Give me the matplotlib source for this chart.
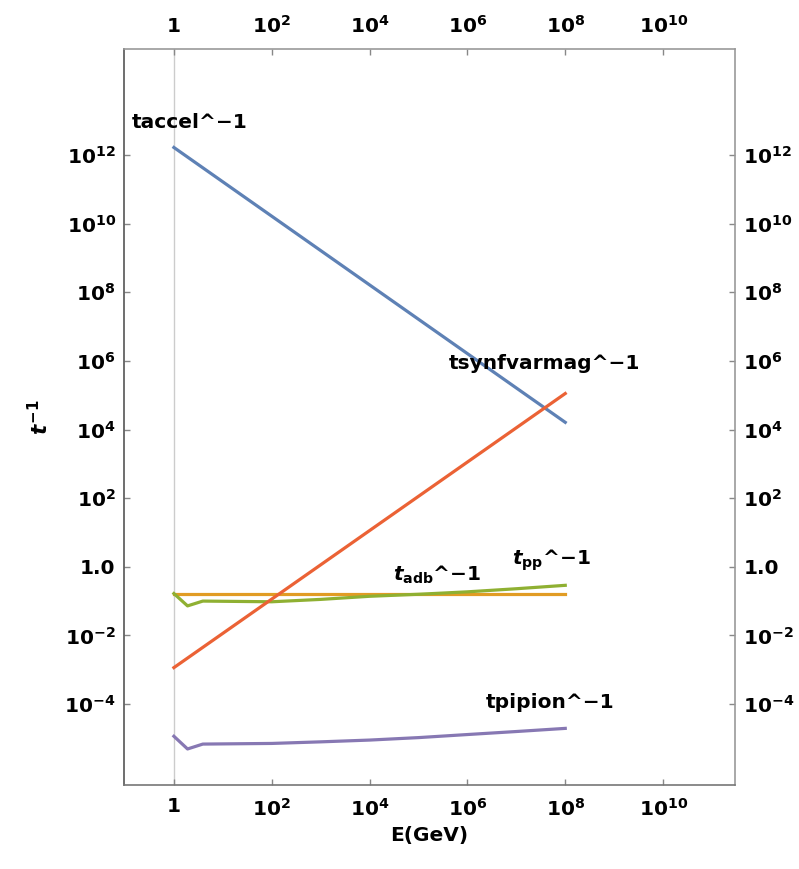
import matplotlib
matplotlib.use("Agg")
import matplotlib.pyplot as plt
from matplotlib.ticker import FixedLocator, FixedFormatter

plt.rcParams['font.family'] = ['DejaVu Sans']
plt.rcParams['mathtext.fontset'] = 'custom'
plt.rcParams['mathtext.rm'] = 'DejaVu Sans:bold'
plt.rcParams['mathtext.bf'] = 'DejaVu Sans:bold'
plt.rcParams['mathtext.it'] = 'DejaVu Sans:bold:oblique'

# ---- data ----
E_line = [1.0, 1e8]
taccel = [1.66e12, 1.62e4]
tsynf = [1.15e-3, 1.12e5]
tadb = [0.163, 0.163]

E_curve = [1.0, 1.9, 3.9, 100.0, 1e3, 1e4, 1e5, 1e6, 1e7, 1e8]
tpp = [0.166, 0.0724, 0.100, 0.0955, 0.112, 0.138, 0.158, 0.186, 0.229, 0.288]
tpipion = [1.15e-5, 4.9e-6, 6.8e-6, 7.1e-6, 7.9e-6, 8.9e-6, 1.05e-5, 1.29e-5, 1.58e-5, 1.95e-5]

xticks = [1, 1e2, 1e4, 1e6, 1e8, 1e10]
xticklabels = ['1', r'$10^{2}$', r'$10^{4}$', r'$10^{6}$', r'$10^{8}$', r'$10^{10}$']
yticks = [1e-4, 1e-2, 1, 1e2, 1e4, 1e6, 1e8, 1e10, 1e12]
yticklabels = [r'$10^{-4}$', r'$10^{-2}$', '1.0', r'$10^{2}$', r'$10^{4}$',
               r'$10^{6}$', r'$10^{8}$', r'$10^{10}$', r'$10^{12}$']

c_blue = '#5E81B5'
c_orange = '#E19C24'
c_green = '#8FB032'
c_red = '#EB6235'
c_purple = '#8778B3'

fig = plt.figure(figsize=(7.99, 8.69), dpi=100)
ax = fig.add_axes([124/799, 1-785/869, (735-124)/799, (785-49)/869])
ax.set_xscale('log')
ax.set_yscale('log')
ax.set_xlim(10**-1.02, 10**11.47)
ax.set_ylim(10**-6.36, 10**15.09)

ax.axvline(1.0, color='#cccccc', lw=1.0, zorder=1)

lw = 2.3
ax.plot(E_line, taccel, color=c_blue, lw=lw, zorder=3)
ax.plot(E_line, tadb, color=c_orange, lw=lw, zorder=3)
ax.plot(E_curve, tpp, color=c_green, lw=lw, zorder=3)
ax.plot(E_line, tsynf, color=c_red, lw=lw, zorder=3)
ax.plot(E_curve, tpipion, color=c_purple, lw=lw, zorder=3)

fs = 14.5
ax.text(10**0.33, 10**12.94, 'taccel^\u22121', fontsize=fs, fontweight='bold',
        ha='center', va='center')
ax.text(10**7.57, 10**5.91, 'tsynfvarmag^\u22121', fontsize=fs, fontweight='bold',
        ha='center', va='center')
ax.text(10**5.39, 10**-0.41, r'$t_{\mathrm{adb}}$' + '^\u22121', fontsize=fs,
        fontweight='bold', ha='center', va='baseline')
ax.text(10**7.71, 10**0.05, r'$t_{\mathrm{pp}}$' + '^\u22121', fontsize=fs,
        fontweight='bold', ha='center', va='baseline')
ax.text(10**7.69, 10**-4.12, 'tpipion^\u22121', fontsize=fs, fontweight='bold',
        ha='center', va='baseline')

ax.xaxis.set_major_locator(FixedLocator(xticks))
ax.xaxis.set_major_formatter(FixedFormatter(xticklabels))
ax.yaxis.set_major_locator(FixedLocator(yticks))
ax.yaxis.set_major_formatter(FixedFormatter(yticklabels))
ax.minorticks_off()

ax.tick_params(axis='both', which='major', direction='in', length=4, width=1,
               color='#888888', labelsize=fs, top=True, right=True,
               labeltop=True, labelright=True)
ax.tick_params(axis='x', pad=9)
ax.tick_params(axis='y', pad=6)
for lab in ax.get_xticklabels() + ax.get_yticklabels():
    lab.set_fontweight('bold')

for side in ['top', 'right', 'bottom']:
    ax.spines[side].set_color('#999999')
    ax.spines[side].set_linewidth(1.2)
ax.spines['left'].set_color('#555555')
ax.spines['left'].set_linewidth(1.2)
ax.spines['bottom'].set_color('#777777')

ax.set_xlabel('E(GeV)', fontsize=fs, fontweight='bold', labelpad=5)
ax.set_ylabel(r'$t^{-1}$', fontsize=fs + 1, labelpad=9)

fig.savefig('out.png', dpi=100)
